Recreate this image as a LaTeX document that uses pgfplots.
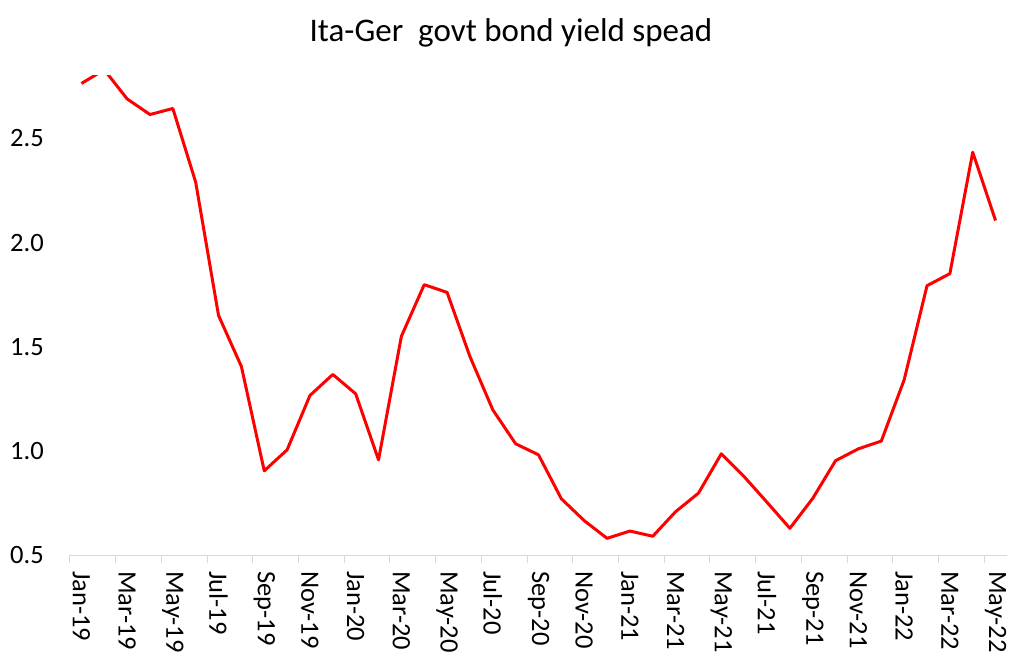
\documentclass[border=0pt]{standalone}
\usepackage{fontspec}
\setmainfont{Carlito}
\usepackage{pgfplots}
\pgfplotsset{compat=1.18}
\definecolor{axgray}{HTML}{D9D9D9}
\begin{document}
\begin{tikzpicture}
\path[use as bounding box] (-70bp,-114bp) rectangle (953bp,555bp);
\begin{axis}[
  at={(0,0)}, anchor=south west,
  scale only axis, width=937bp, height=479bp,
  xmin=-0.5, xmax=40.5, ymin=0.5, ymax=2.8,
  axis x line*=bottom, axis y line*=left,
  y axis line style={draw=none},
  x axis line style={draw=axgray, line width=1bp},
  xtick={-0.5,1.5,...,39.5},
  xticklabels={Jan-19,Mar-19,May-19,Jul-19,Sep-19,Nov-19,Jan-20,Mar-20,May-20,Jul-20,Sep-20,Nov-20,Jan-21,Mar-21,May-21,Jul-21,Sep-21,Nov-21,Jan-22,Mar-22,May-22},
  x tick style={draw=axgray, line width=1bp},
  tick align=outside, major tick length=8bp,
  xticklabel style={font=\fontsize{26.5bp}{30bp}\selectfont, inner sep=0pt, xshift=11.4bp, yshift=-8bp, rotate=-90, anchor=west},
  ytick={0.5,1.0,...,2.5},
  y tick style={draw=none},
  yticklabel style={font=\fontsize{26.5bp}{30bp}\selectfont, inner sep=0pt, anchor=east, xshift=-18bp,
    /pgf/number format/.cd, fixed, fixed zerofill, precision=1, assume math mode=true},
  /pgf/number format/assume math mode=true,
]
\addplot[red, line width=3bp, line join=round] coordinates {
(0,2.764) (1,2.83) (2,2.69) (3,2.615) (4,2.644) (5,2.29) (6,1.65) (7,1.405) (8,0.904) (9,1.005)
(10,1.266) (11,1.367) (12,1.274) (13,0.957) (14,1.55) (15,1.798) (16,1.761) (17,1.453) (18,1.197) (19,1.034)
(20,0.981) (21,0.77) (22,0.665) (23,0.58) (24,0.615) (25,0.59) (26,0.708) (27,0.797) (28,0.986) (29,0.876)
(30,0.753) (31,0.628) (32,0.772) (33,0.953) (34,1.01) (35,1.047) (36,1.341) (37,1.793) (38,1.851) (39,2.434)
(40,2.106)};
\end{axis}
\node[font=\fontsize{33bp}{38bp}\selectfont, inner sep=0pt] at (441bp,522bp) {Ita-Ger\ \ govt bond yield spead};
\end{tikzpicture}
\end{document}
